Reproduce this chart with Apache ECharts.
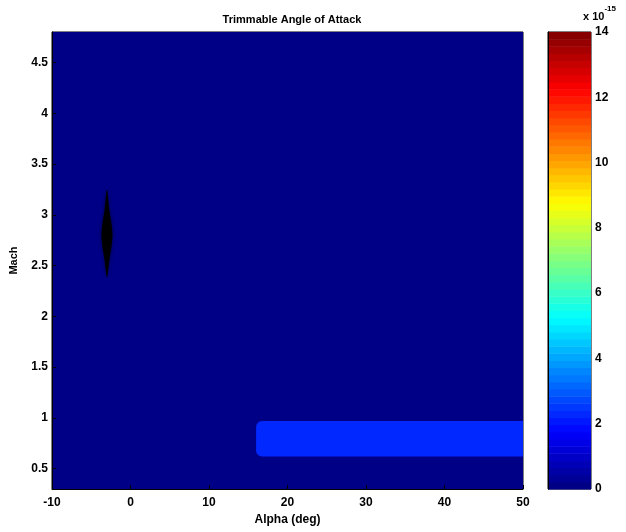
<!DOCTYPE html>
<html>
<head>
<meta charset="utf-8">
<script src="https://cdn.jsdelivr.net/npm/echarts@6/dist/echarts.min.js"></script>
<style>
  html, body { margin: 0; padding: 0; background: #fff; }
  #chart { width: 626px; height: 532px; }
</style>
</head>
<body>
<div id="chart"></div>
<script>
// axis ranges and ticks
var xTicks = [-10, 0, 10, 20, 30, 40, 50];
var yTicks = [0.5, 1, 1.5, 2, 2.5, 3, 3.5, 4, 4.5];
var yRange = [0.3, 4.8];
var cbarTicks = [0, 2, 4, 6, 8, 10, 12, 14];

// filled regions (value in units of 1e-15)
var bgValue = 0;
var bandX = [16, 50];
var bandY = [0.62, 0.97];
var bandValue = 2.2;

// dark spot near alpha = -3
var spotX = [-3.0, -2.7, -2.4, -2.3, -2.4, -2.7, -3.0, -3.3, -3.6, -3.7, -3.6, -3.3];
var spotY = [3.25, 3.05, 2.9, 2.8, 2.7, 2.55, 2.38, 2.55, 2.7, 2.8, 2.9, 3.05];

var cmin = 0, cmax = 14, nColors = 64;

function jet(t) {
    // MATLAB jet colormap, t in [0,1]
    function c(x) { return Math.max(0, Math.min(1, x)); }
    var r = c(Math.min(4 * t - 1.5, -4 * t + 4.5));
    var g = c(Math.min(4 * t - 0.5, -4 * t + 3.5));
    var b = c(Math.min(4 * t + 0.5, -4 * t + 2.5));
    return 'rgb(' + Math.round(r * 255) + ',' + Math.round(g * 255) + ',' + Math.round(b * 255) + ')';
}
function colorOf(v) {
    var idx = Math.min(nColors - 1, Math.floor((v - cmin) / (cmax - cmin) * nColors));
    return jet((idx + 0.5) / nColors);
}

var font = "'Liberation Sans Narrow', 'Liberation Sans', Arial, sans-serif";
var labelStyle = { color: '#000', fontWeight: 'bold', fontSize: 12, fontFamily: font };

var cbarLevels = [];
for (var i = 0; i < nColors; i++) cbarLevels.push(i);

var chart = echarts.init(document.getElementById('chart'));
chart.setOption({
    animation: false,
    backgroundColor: '#fff',
    title: {
        text: 'Trimmable Angle of Attack',
        left: 287, top: 9, textAlign: 'center',
        textStyle: { color: '#000', fontWeight: 'bold', fontSize: 11, fontFamily: font }
    },
    grid: [
        { left: 52, top: 32, width: 471, height: 457, show: true, borderColor: '#000', borderWidth: 1, backgroundColor: 'transparent' },
        { left: 548, top: 32, width: 43, height: 457, show: true, borderColor: '#000', borderWidth: 1, backgroundColor: 'transparent' }
    ],
    xAxis: [
        {
            gridIndex: 0, type: 'value', min: -10, max: 50, interval: 10, z: 5,
            name: 'Alpha (deg)', nameLocation: 'middle', nameGap: 24,
            nameTextStyle: labelStyle,
            axisLine: { show: true, onZero: false, lineStyle: { color: '#000' } },
            axisTick: { inside: true, length: 4, lineStyle: { color: '#000' } },
            axisLabel: Object.assign({ margin: 8 }, labelStyle),
            splitLine: { show: false }
        },
        { gridIndex: 1, type: 'value', min: 0, max: 1, show: false }
    ],
    yAxis: [
        {
            gridIndex: 0, type: 'value', min: yRange[0], max: yRange[1], z: 5,
            name: 'Mach', nameLocation: 'middle', nameGap: 33,
            nameTextStyle: Object.assign({}, labelStyle, { fontSize: 11 }),
            axisLine: { show: true, onZero: false, lineStyle: { color: '#000' } },
            axisTick: { inside: true, length: 4, customValues: yTicks, lineStyle: { color: '#000' } },
            axisLabel: Object.assign({ margin: 4, customValues: yTicks }, labelStyle),
            splitLine: { show: false }
        },
        {
            gridIndex: 1, type: 'value', min: cmin, max: cmax, interval: 2, position: 'right', z: 5,
            axisLine: { show: true, lineStyle: { color: '#000' } },
            axisTick: { show: false },
            axisLabel: Object.assign({ margin: 4 }, labelStyle),
            splitLine: { show: false }
        }
    ],
    graphic: [{
        type: 'text', left: 583, top: 5, z: 10,
        style: {
            text: '{b|x 10}{s|-15}',
            rich: {
                b: { fontSize: 11, fontWeight: 'bold', fontFamily: font, fill: '#000', padding: [6, 0, 0, 0] },
                s: { fontSize: 8, fontWeight: 'bold', fontFamily: font, fill: '#000', verticalAlign: 'top' }
            }
        }
    }],
    series: [
        {
            // filled contour regions
            type: 'custom', xAxisIndex: 0, yAxisIndex: 0, clip: true, silent: true, z: 1,
            data: [[-10, 50, yRange[0], yRange[1], bgValue], [bandX[0], bandX[1], bandY[0], bandY[1], bandValue]],
            renderItem: function (params, api) {
                var p0 = api.coord([api.value(0), api.value(3)]);
                var p1 = api.coord([api.value(1), api.value(2)]);
                var isBand = params.dataIndex > 0;
                return {
                    type: 'rect',
                    shape: { x: p0[0], y: p0[1], width: p1[0] - p0[0], height: p1[1] - p0[1], r: isBand ? [6, 0, 0, 6] : 0 },
                    style: { fill: colorOf(api.value(4)) }
                };
            }
        },
        {
            // dark spot
            type: 'custom', xAxisIndex: 0, yAxisIndex: 0, silent: true, z: 1,
            data: [0],
            renderItem: function (params, api) {
                var pts = spotX.map(function (x, k) { return api.coord([x, spotY[k]]); });
                return {
                    type: 'polygon',
                    shape: { points: pts, smooth: 0.3 },
                    style: { fill: '#000', shadowBlur: 4, shadowColor: 'rgba(0,0,0,0.5)' }
                };
            }
        },
        {
            // colorbar
            type: 'custom', xAxisIndex: 1, yAxisIndex: 1, silent: true, z: 1,
            data: cbarLevels,
            renderItem: function (params, api) {
                var k = api.value(0);
                var lo = cmin + (cmax - cmin) * k / nColors;
                var hi = cmin + (cmax - cmin) * (k + 1) / nColors;
                var a = api.coord([0, hi]);
                var b = api.coord([1, lo]);
                return {
                    type: 'rect',
                    shape: { x: a[0], y: a[1], width: b[0] - a[0], height: b[1] - a[1] + 0.5 },
                    style: { fill: jet((k + 0.5) / nColors) }
                };
            }
        }
    ]
});
</script>
</body>
</html>
